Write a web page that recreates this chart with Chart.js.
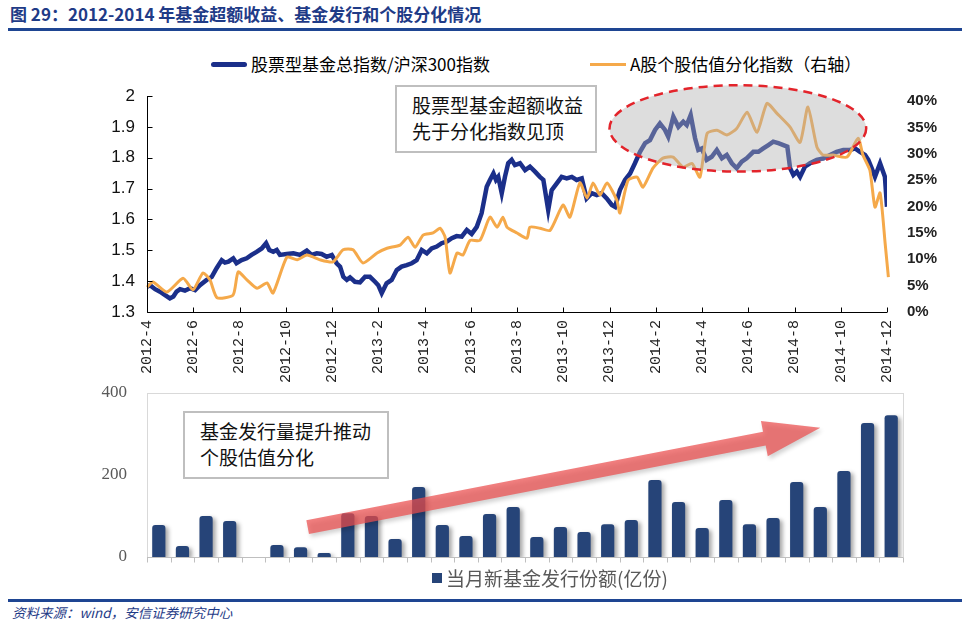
<!DOCTYPE html>
<html lang="zh">

<head>
	<meta charset="UTF-8">
	<title>基金超额收益、基金发行和个股分化</title>
	<script src="https://cdn.jsdelivr.net/npm/chart.js@4.4.1/dist/chart.umd.min.js"></script>
	<style>
		body { margin: 0; width: 969px; height: 635px; position: relative; overflow: hidden; background: #fff; font-family: "Noto Sans CJK SC", sans-serif; }
		.abs { position: absolute; white-space: nowrap; }
		.rule { position: absolute; left: 8px; width: 954px; height: 3px; background: #1e4592; }
		.box { position: absolute; box-sizing: border-box; border: 2px solid #bfbfbf; background: #fff; font-size: 19px; line-height: 26px; color: #111; }
		canvas { position: absolute; left: 0; }
	</style>
</head>

<body>
	<div class="abs" style="left:10px; top:3px; font-size:17px; line-height:22px; font-weight:bold; color:#1f3b87;">图 29：2012-2014 年基金超额收益、基金发行和个股分化情况</div>
	<div class="rule" style="top:28px;"></div>

	<div class="abs" style="left:211px; top:62px; width:36px; height:5px; border-radius:3px; background:#1b2f8a;"></div>
	<div class="abs" style="left:251px; top:53px; font-size:17px; line-height:22px; color:#000;">股票型基金总指数/沪深300指数</div>
	<div class="abs" style="left:590px; top:63px; width:36px; height:3px; background:#f5a94a;"></div>
	<div class="abs" style="left:630px; top:53px; font-size:17px; line-height:22px; color:#000;">A股个股估值分化指数（右轴）</div>

	<canvas id="topChart" width="969" height="315" style="top:80px;"></canvas>
	<canvas id="barChart" width="969" height="220" style="top:380px;"></canvas>

	<div class="box" style="left:395px; top:85px; width:202px; height:68px; padding:5px 0 0 15px;">股票型基金超额收益<br>先于分化指数见顶</div>
	<div class="box" style="left:183px; top:411px; width:206px; height:68px; padding:5px 0 0 15px;">基金发行量提升推动<br>个股估值分化</div>

	<div class="abs" style="left:432px; top:573px; width:10px; height:10px; background:#264478;"></div>
	<div class="abs" style="left:446px; top:566px; font-size:19px; line-height:24px; color:#595959;">当月新基金发行份额(亿份)</div>

	<div class="rule" style="top:599px;"></div>
	<div class="abs" style="left:12px; top:603px; font-size:13.5px; line-height:19px; font-style:italic; color:#1f3b87;">资料来源：wind，安信证券研究中心</div>

	<script>
		// x = months since 2012-4
		const monthTicks = ['2012-4', '2012-6', '2012-8', '2012-10', '2012-12', '2013-2', '2013-4', '2013-6', '2013-8',
			'2013-10', '2013-12', '2014-2', '2014-4', '2014-6', '2014-8', '2014-10', '2014-12'];
		const pctTicks = [0, 5, 10, 15, 20, 25, 30, 35, 40];

		// 股票型基金总指数/沪深300指数 [month, value]
		const fundIndex = [
			[0, 1.382], [0.13, 1.387], [0.35, 1.374], [0.56, 1.366], [0.78, 1.355], [0.99, 1.344], [1.14, 1.350],
			[1.28, 1.366], [1.43, 1.374], [1.64, 1.369], [1.86, 1.377], [2.08, 1.371], [2.29, 1.387], [2.58, 1.404],
			[2.80, 1.414], [3.01, 1.442], [3.23, 1.468], [3.37, 1.460], [3.52, 1.463], [3.73, 1.474], [3.87, 1.458],
			[4.09, 1.468], [4.31, 1.474], [4.52, 1.485], [4.74, 1.495], [4.96, 1.506], [5.15, 1.523], [5.29, 1.501],
			[5.46, 1.495], [5.61, 1.501], [5.75, 1.485], [6.04, 1.488], [6.33, 1.490], [6.62, 1.485], [6.91, 1.499],
			[7.12, 1.485], [7.34, 1.490], [7.55, 1.488], [7.77, 1.479], [7.99, 1.485], [8.20, 1.458], [8.35, 1.447],
			[8.49, 1.414], [8.64, 1.404], [8.78, 1.412], [8.99, 1.398], [9.21, 1.396], [9.43, 1.414], [9.64, 1.414],
			[9.86, 1.398], [10.0, 1.387], [10.15, 1.361], [10.36, 1.393], [10.58, 1.404], [10.80, 1.436],
			[11.01, 1.447], [11.23, 1.452], [11.45, 1.458], [11.66, 1.468], [11.88, 1.501], [12.10, 1.490],
			[12.31, 1.506], [12.53, 1.512], [12.74, 1.523], [12.96, 1.528], [13.18, 1.539], [13.39, 1.546],
			[13.61, 1.544], [13.83, 1.566], [14.04, 1.553], [14.26, 1.576], [14.47, 1.620], [14.69, 1.706],
			[14.83, 1.728], [14.98, 1.749], [15.09, 1.728], [15.19, 1.738], [15.34, 1.685], [15.48, 1.738],
			[15.62, 1.782], [15.77, 1.793], [15.91, 1.776], [16.13, 1.782], [16.35, 1.760], [16.56, 1.771],
			[16.78, 1.755], [16.99, 1.738], [17.14, 1.728], [17.35, 1.630], [17.50, 1.695], [17.72, 1.717],
			[17.93, 1.738], [18.15, 1.733], [18.37, 1.738], [18.58, 1.728], [18.80, 1.733], [19.01, 1.668],
			[19.23, 1.685], [19.45, 1.679], [19.66, 1.685], [19.88, 1.668], [20.10, 1.647], [20.24, 1.641],
			[20.45, 1.695], [20.67, 1.728], [20.89, 1.749], [21.10, 1.782], [21.32, 1.819], [21.54, 1.847],
			[21.75, 1.857], [21.97, 1.890], [22.18, 1.911], [22.40, 1.890], [22.54, 1.868], [22.76, 1.933],
			[22.98, 1.900], [23.19, 1.917], [23.34, 1.906], [23.51, 1.938], [23.70, 1.863], [23.84, 1.825],
			[23.99, 1.830], [24.20, 1.793], [24.42, 1.803], [24.64, 1.825], [24.86, 1.798], [25.07, 1.809],
			[25.29, 1.782], [25.50, 1.766], [25.72, 1.787], [25.93, 1.798], [26.22, 1.819], [26.44, 1.819],
			[26.65, 1.830], [26.87, 1.841], [27.08, 1.852], [27.30, 1.847], [27.52, 1.841], [27.69, 1.836],
			[27.81, 1.766], [27.95, 1.744], [28.10, 1.755], [28.24, 1.738], [28.45, 1.771], [28.67, 1.782],
			[28.96, 1.793], [29.25, 1.798], [29.54, 1.809], [29.82, 1.819], [30.11, 1.825], [30.40, 1.825],
			[30.62, 1.830], [30.83, 1.819], [31.05, 1.809], [31.19, 1.793], [31.34, 1.766], [31.48, 1.738],
			[31.70, 1.782], [31.91, 1.738], [32.0, 1.641]
		];

		// A股个股估值分化指数 (%) [month, value]
		const dispersion = [
			[0, 4.7], [0.26, 5.7], [0.86, 3.8], [1.56, 6.4], [1.99, 4.2], [2.42, 7.4], [2.72, 6.1], [3.03, 2.7],
			[3.72, 3.2], [3.94, 7.6], [4.32, 6.1], [4.76, 4.5], [5.19, 5.5], [5.45, 3.6], [6.05, 10.4], [6.49, 9.9],
			[6.92, 10.8], [7.48, 9.9], [8.04, 9.5], [8.48, 11.8], [8.91, 11.8], [9.34, 9.3], [9.95, 11.2],
			[10.38, 12.1], [10.94, 12.7], [11.29, 14.2], [11.59, 12.3], [11.94, 14.6], [12.37, 15.0], [12.67, 15.9],
			[12.89, 14.2], [13.10, 7.4], [13.41, 11.2], [13.66, 10.8], [13.97, 13.6], [14.40, 13.6], [14.83, 18.0],
			[15.14, 16.1], [15.39, 18.0], [15.57, 16.1], [16.0, 15.0], [16.43, 14.0], [16.56, 16.1], [16.99, 15.9],
			[17.43, 15.5], [17.99, 20.3], [18.29, 18.0], [18.72, 24.5], [19.03, 21.6], [19.29, 24.5], [19.59, 22.2],
			[19.89, 24.5], [20.32, 21.2], [20.45, 18.8], [20.80, 25.0], [21.19, 25.6], [21.45, 23.7], [21.88, 27.3],
			[22.31, 29.2], [22.75, 29.4], [23.18, 27.5], [23.57, 28.2], [23.91, 25.6], [24.22, 33.9], [24.65, 34.5],
			[25.08, 33.6], [25.51, 34.9], [25.95, 37.9], [26.38, 34.1], [26.81, 39.6], [27.24, 37.7], [27.81, 35.1],
			[28.24, 32.2], [28.58, 38.9], [28.97, 31.3], [29.23, 29.8], [29.66, 29.8], [30.27, 29.4], [30.75, 33.0],
			[30.96, 29.8], [31.26, 26.9], [31.48, 19.9], [31.70, 22.6], [31.92, 13.0], [32.06, 6.6]
		];

		// 当月新基金发行份额(亿份)
		const issueMonths = ['2012-04', '2012-05', '2012-06', '2012-07', '2012-08', '2012-09', '2012-10', '2012-11',
			'2012-12', '2013-01', '2013-02', '2013-03', '2013-04', '2013-05', '2013-06', '2013-07', '2013-08',
			'2013-09', '2013-10', '2013-11', '2013-12', '2014-01', '2014-02', '2014-03', '2014-04', '2014-05',
			'2014-06', '2014-07', '2014-08', '2014-09', '2014-10', '2014-11'];
		const issueAmount = [78, 27, 100, 88, 0, 29, 24, 10, 107, 100, 44, 171, 78, 51, 105, 122,
			49, 73, 61, 80, 90, 188, 134, 71, 139, 80, 95, 183, 122, 210, 327, 346];

		const toXY = arr => arr.map(p => ({ x: p[0], y: p[1] }));
		const noPad = s => { s.paddingTop = 0; s.paddingBottom = 0; s.paddingLeft = 0; s.paddingRight = 0; };

		const topDeco = {
			id: 'topDeco',
			afterDatasetsDraw(chart) {
				const { ctx, scales: { x, y } } = chart;
				// highlight ellipse
				const cx = x.getPixelForValue(25.55), cy = y.getPixelForValue(1.895);
				const rx = (x.getPixelForValue(31.1) - x.getPixelForValue(20.0)) / 2;
				const ry = y.getPixelForValue(1.755) - cy;
				ctx.save();
				ctx.beginPath();
				ctx.ellipse(cx, cy, rx, ry, 0, 0, Math.PI * 2);
				ctx.fillStyle = 'rgba(175,175,175,0.42)';
				ctx.fill();
				ctx.setLineDash([9, 6]);
				ctx.strokeStyle = '#e3242b';
				ctx.lineWidth = 2.5;
				ctx.stroke();
				ctx.restore();
			},
			afterDraw(chart) {
				const { ctx, chartArea: a, scales: { x, y } } = chart;
				ctx.save();
				ctx.strokeStyle = '#000';
				ctx.lineWidth = 1;
				ctx.beginPath();
				const L = Math.round(a.left) + 0.5, B = Math.round(a.bottom) + 0.5;
				ctx.moveTo(L, a.top); ctx.lineTo(L, B); ctx.lineTo(a.right, B);
				y.ticks.forEach(t => {
					const py = Math.round(y.getPixelForValue(t.value)) + 0.5;
					ctx.moveTo(L, py); ctx.lineTo(L + 5, py);
				});
				x.ticks.forEach(t => {
					const px = Math.round(x.getPixelForValue(t.value)) + 0.5;
					ctx.moveTo(px, B); ctx.lineTo(px, B - 5);
				});
				ctx.stroke();
				ctx.restore();
			}
		};

		new Chart(document.getElementById('topChart'), {
			type: 'line',
			data: {
				datasets: [{
					label: '股票型基金总指数/沪深300指数',
					data: toXY(fundIndex),
					yAxisID: 'y',
					borderColor: '#1b2f8a',
					borderWidth: 4.5,
					pointRadius: 0,
					tension: 0,
					order: 1
				}, {
					label: 'A股个股估值分化指数（右轴）',
					data: toXY(dispersion),
					yAxisID: 'y1',
					borderColor: '#f5a94a',
					borderWidth: 3,
					pointRadius: 0,
					tension: 0.2,
					clip: 6,
					order: 0
				}]
			},
			options: {
				responsive: false,
				animation: false,
				layout: { padding: { top: 16, left: 0, right: 0, bottom: 0 } },
				plugins: { legend: { display: false }, tooltip: { enabled: false } },
				scales: {
					x: {
						type: 'linear',
						min: 0,
						max: 32,
						grid: { display: false, drawTicks: false },
						border: { display: false },
						afterFit: s => { s.height = 83; noPad(s); },
						afterBuildTicks: s => { s.ticks = monthTicks.map((m, i) => ({ value: i * 2 })); },
						ticks: {
							autoSkip: false,
							maxRotation: 90,
							minRotation: 90,
							padding: 8,
							color: '#222',
							font: { family: 'Liberation Mono', size: 15 },
							callback: (v, i) => monthTicks[i]
						}
					},
					y: {
						position: 'left',
						min: 1.3,
						max: 2.0,
						grid: { display: false, drawTicks: false },
						border: { display: false },
						afterFit: s => { s.width = 147; noPad(s); },
						ticks: {
							stepSize: 0.1,
							autoSkip: false,
							padding: 12,
							color: '#111',
							font: { family: 'Liberation Sans', size: 17 },
							callback: v => String(Number(v.toFixed(1)))
						}
					},
					y1: {
						position: 'right',
						min: 0,
						max: 41,
						grid: { display: false, drawTicks: false },
						border: { display: false },
						afterFit: s => { s.width = 82; noPad(s); },
						afterBuildTicks: s => { s.ticks = pctTicks.map(v => ({ value: v })); },
						ticks: {
							autoSkip: false,
							padding: 20,
							color: '#222',
							font: { family: 'Liberation Sans', size: 15, weight: 'bold' },
							callback: v => v + '%'
						}
					}
				}
			},
			plugins: [topDeco]
		});

		const barDeco = {
			id: 'barDeco',
			beforeDatasetDraw(chart) {
				const ctx = chart.ctx;
				ctx.save();
				ctx.shadowColor = 'rgba(0,0,0,0.35)';
				ctx.shadowOffsetX = 3;
				ctx.shadowOffsetY = 2;
				ctx.shadowBlur = 4;
			},
			afterDatasetDraw(chart) {
				chart.ctx.restore();
			},
			afterDatasetsDraw(chart) {
				const { ctx, chartArea: a, scales: { x, y } } = chart;
				ctx.save();
				// frame
				ctx.strokeStyle = '#d9d9d9';
				ctx.lineWidth = 1;
				ctx.strokeRect(Math.round(a.left) + 0.5, Math.round(a.top) + 0.5, Math.round(a.width), Math.round(a.height));
				// category axis
				const B = Math.round(a.bottom) + 0.5;
				ctx.strokeStyle = '#bfbfbf';
				ctx.beginPath();
				ctx.moveTo(a.left, B); ctx.lineTo(a.right, B);
				for (let i = 0; i <= issueAmount.length; i++) {
					const px = Math.round(x.getPixelForValue(i - 0.5)) + 0.5;
					ctx.moveTo(px, B); ctx.lineTo(px, B + 5);
				}
				ctx.stroke();

				// trend arrow
				const x0 = x.getPixelForValue(6.3), y0 = y.getPixelForValue(73);
				const x1 = x.getPixelForValue(28.0), y1 = y.getPixelForValue(315);
				const dx = x1 - x0, dy = y1 - y0, len = Math.hypot(dx, dy);
				const ux = dx / len, uy = dy / len, nx = -uy, ny = ux;
				const head = 57, hw = 18, sw = 7;
				const bx = x1 - ux * head, by = y1 - uy * head;
				ctx.beginPath();
				ctx.moveTo(x0 + nx * sw, y0 + ny * sw);
				ctx.lineTo(bx + nx * sw, by + ny * sw);
				ctx.lineTo(bx + nx * hw, by + ny * hw);
				ctx.lineTo(x1, y1);
				ctx.lineTo(bx - nx * hw, by - ny * hw);
				ctx.lineTo(bx - nx * sw, by - ny * sw);
				ctx.lineTo(x0 - nx * sw, y0 - ny * sw);
				ctx.closePath();
				ctx.shadowColor = 'rgba(0,0,0,0.25)';
				ctx.shadowOffsetX = 2;
				ctx.shadowOffsetY = 3;
				ctx.shadowBlur = 4;
				ctx.fillStyle = 'rgba(236,78,78,0.72)';
				ctx.fill();
				ctx.restore();
			}
		};

		new Chart(document.getElementById('barChart'), {
			type: 'bar',
			data: {
				labels: issueMonths,
				datasets: [{
					label: '当月新基金发行份额(亿份)',
					data: issueAmount,
					backgroundColor: '#264478',
					borderRadius: { topLeft: 3, topRight: 3 },
					borderSkipped: 'bottom',
					barPercentage: 0.56,
					categoryPercentage: 1
				}]
			},
			options: {
				responsive: false,
				animation: false,
				layout: { padding: { top: 13, left: 0, right: 66, bottom: 0 } },
				plugins: { legend: { display: false }, tooltip: { enabled: false } },
				scales: {
					x: {
						grid: { display: false, drawTicks: false },
						border: { display: false },
						ticks: { display: false },
						afterFit: s => { s.height = 43; noPad(s); }
					},
					y: {
						min: 0,
						max: 400,
						grid: { display: false, drawTicks: false },
						border: { display: false },
						afterFit: s => { s.width = 147; noPad(s); },
						ticks: {
							stepSize: 200,
							padding: 20,
							color: '#595959',
							font: { family: 'Liberation Serif', size: 17 }
						}
					}
				}
			},
			plugins: [barDeco]
		});
	</script>
</body>

</html>
